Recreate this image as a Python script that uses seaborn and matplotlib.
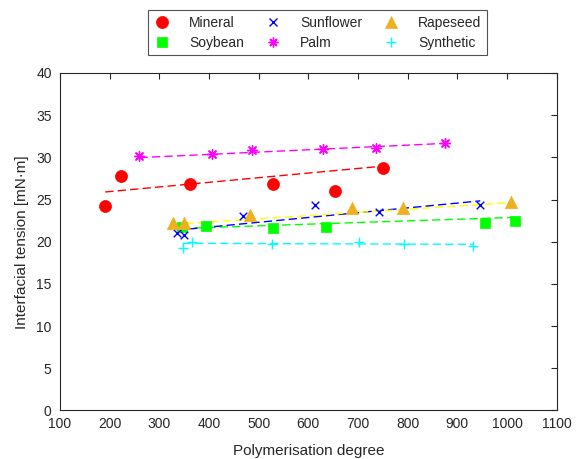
import numpy as np
import pandas as pd
import matplotlib
matplotlib.use("Agg")
import matplotlib.pyplot as plt
import seaborn as sns

# Polymerisation degree and interfacial tension per insulating liquid
mineral_x = [191, 222, 362, 528, 653, 750]
mineral_y = [24.2, 27.8, 26.9, 26.9, 26.0, 28.7]

soybean_x = [346, 394, 528, 635, 956, 1016]
soybean_y = [21.7, 21.9, 21.6, 21.7, 22.2, 22.4]

sunflower_x = [335, 350, 469, 614, 742, 946]
sunflower_y = [21.0, 20.8, 23.0, 24.3, 23.5, 24.3]

palm_x = [260, 407, 486, 630, 736, 876]
palm_y = [30.2, 30.4, 30.9, 31.0, 31.1, 31.7]

rapeseed_x = [327, 350, 482, 687, 791, 1008]
rapeseed_y = [22.2, 22.2, 23.2, 24.0, 24.0, 24.7]

synthetic_x = [347, 365, 527, 701, 793, 932]
synthetic_y = [19.3, 20.0, 19.7, 20.0, 19.7, 19.5]

# Linear trend coefficients (slope, intercept) for each liquid
mineral_trend = [0.00548, 24.85]
soybean_trend = [0.00195, 20.91]
sunflower_trend = [0.00569, 19.46]
palm_trend = [0.00275, 29.25]
rapeseed_trend = [0.00379, 20.82]
synthetic_trend = [-0.0002, 19.88]

x_ticks = [100, 200, 300, 400, 500, 600, 700, 800, 900, 1000, 1100]
y_ticks = [0, 5, 10, 15, 20, 25, 30, 35, 40]

sns.set_style("white")
plt.rcParams["font.family"] = ["Liberation Sans", "DejaVu Sans"]

series = [
    # name, x, y, trend, marker, marker colour, line colour, size, filled
    ("Mineral", mineral_x, mineral_y, mineral_trend, "o", "#FF0000", "#FF0000", 75, True),
    ("Soybean", soybean_x, soybean_y, soybean_trend, "s", "#00FF00", "#00FF00", 50, True),
    ("Sunflower", sunflower_x, sunflower_y, sunflower_trend, "x", "#0000FF", "#0000FF", 30, False),
    ("Palm", palm_x, palm_y, palm_trend, (8, 2, 0), "#FF00FF", "#FF00FF", 50, False),
    ("Rapeseed", rapeseed_x, rapeseed_y, rapeseed_trend, "^", "#EDB120", "#FFFF00", 80, True),
    ("Synthetic", synthetic_x, synthetic_y, synthetic_trend, "+", "#00FFFF", "#00FFFF", 60, False),
]

fig = plt.figure(figsize=(5.83, 4.59), dpi=100)
ax = fig.add_axes([0.1029, 0.1057, 0.852, 0.7353])

handles = []
for name, xs, ys, trend, marker, mcol, lcol, size, filled in series:
    df = pd.DataFrame({"x": xs, "y": ys})
    slope, intercept = trend
    xfit = np.array([df["x"].min(), df["x"].max()])
    fit = pd.DataFrame({"x": xfit, "y": slope * xfit + intercept})
    sns.lineplot(data=fit, x="x", y="y", ax=ax, color=lcol, lw=1.0,
                 linestyle=(0, (6, 3)), legend=False, zorder=2)
    if filled:
        sns.scatterplot(data=df, x="x", y="y", ax=ax, marker=marker, s=size,
                        color=mcol, edgecolor=mcol, linewidth=0.5, zorder=3)
    else:
        sns.scatterplot(data=df, x="x", y="y", ax=ax, marker=marker, s=size,
                        color=mcol, linewidth=1.0, zorder=3)
    h = plt.Line2D([], [], linestyle="none", marker=marker,
                   markersize=np.sqrt(size),
                   color=mcol, markeredgecolor=mcol,
                   markeredgewidth=0.5 if filled else 1.0)
    handles.append((h, name))

ax.set_xlim(100, 1100)
ax.set_ylim(0, 40)
ax.set_xticks(x_ticks)
ax.set_yticks(y_ticks)
ax.set_xlabel("Polymerisation degree", fontsize=11, color="#262626", labelpad=9)
ax.set_ylabel("Interfacial tension [mN\u00b7m]", fontsize=11, color="#262626", labelpad=5)
ax.tick_params(axis="both", which="both", direction="in", length=4,
               width=0.8, colors="#262626", labelsize=10,
               top=True, right=True, labelcolor="#262626")
ax.tick_params(axis="x", pad=5)
ax.tick_params(axis="y", pad=6)
for sp in ax.spines.values():
    sp.set_visible(True)
    sp.set_color("#262626")
    sp.set_linewidth(0.8)

leg = fig.legend([h for h, _ in handles], [n for _, n in handles],
                 loc="upper center", bbox_to_anchor=(0.5446, 0.978),
                 borderaxespad=0.0,
                 ncol=3, fontsize=10, frameon=True, fancybox=False,
                 edgecolor="#262626", handletextpad=1.35, columnspacing=1.5,
                 borderpad=0.4, labelspacing=0.45, handlelength=1.2)
leg.get_frame().set_linewidth(0.8)

fig.savefig("out.png", dpi=100)
